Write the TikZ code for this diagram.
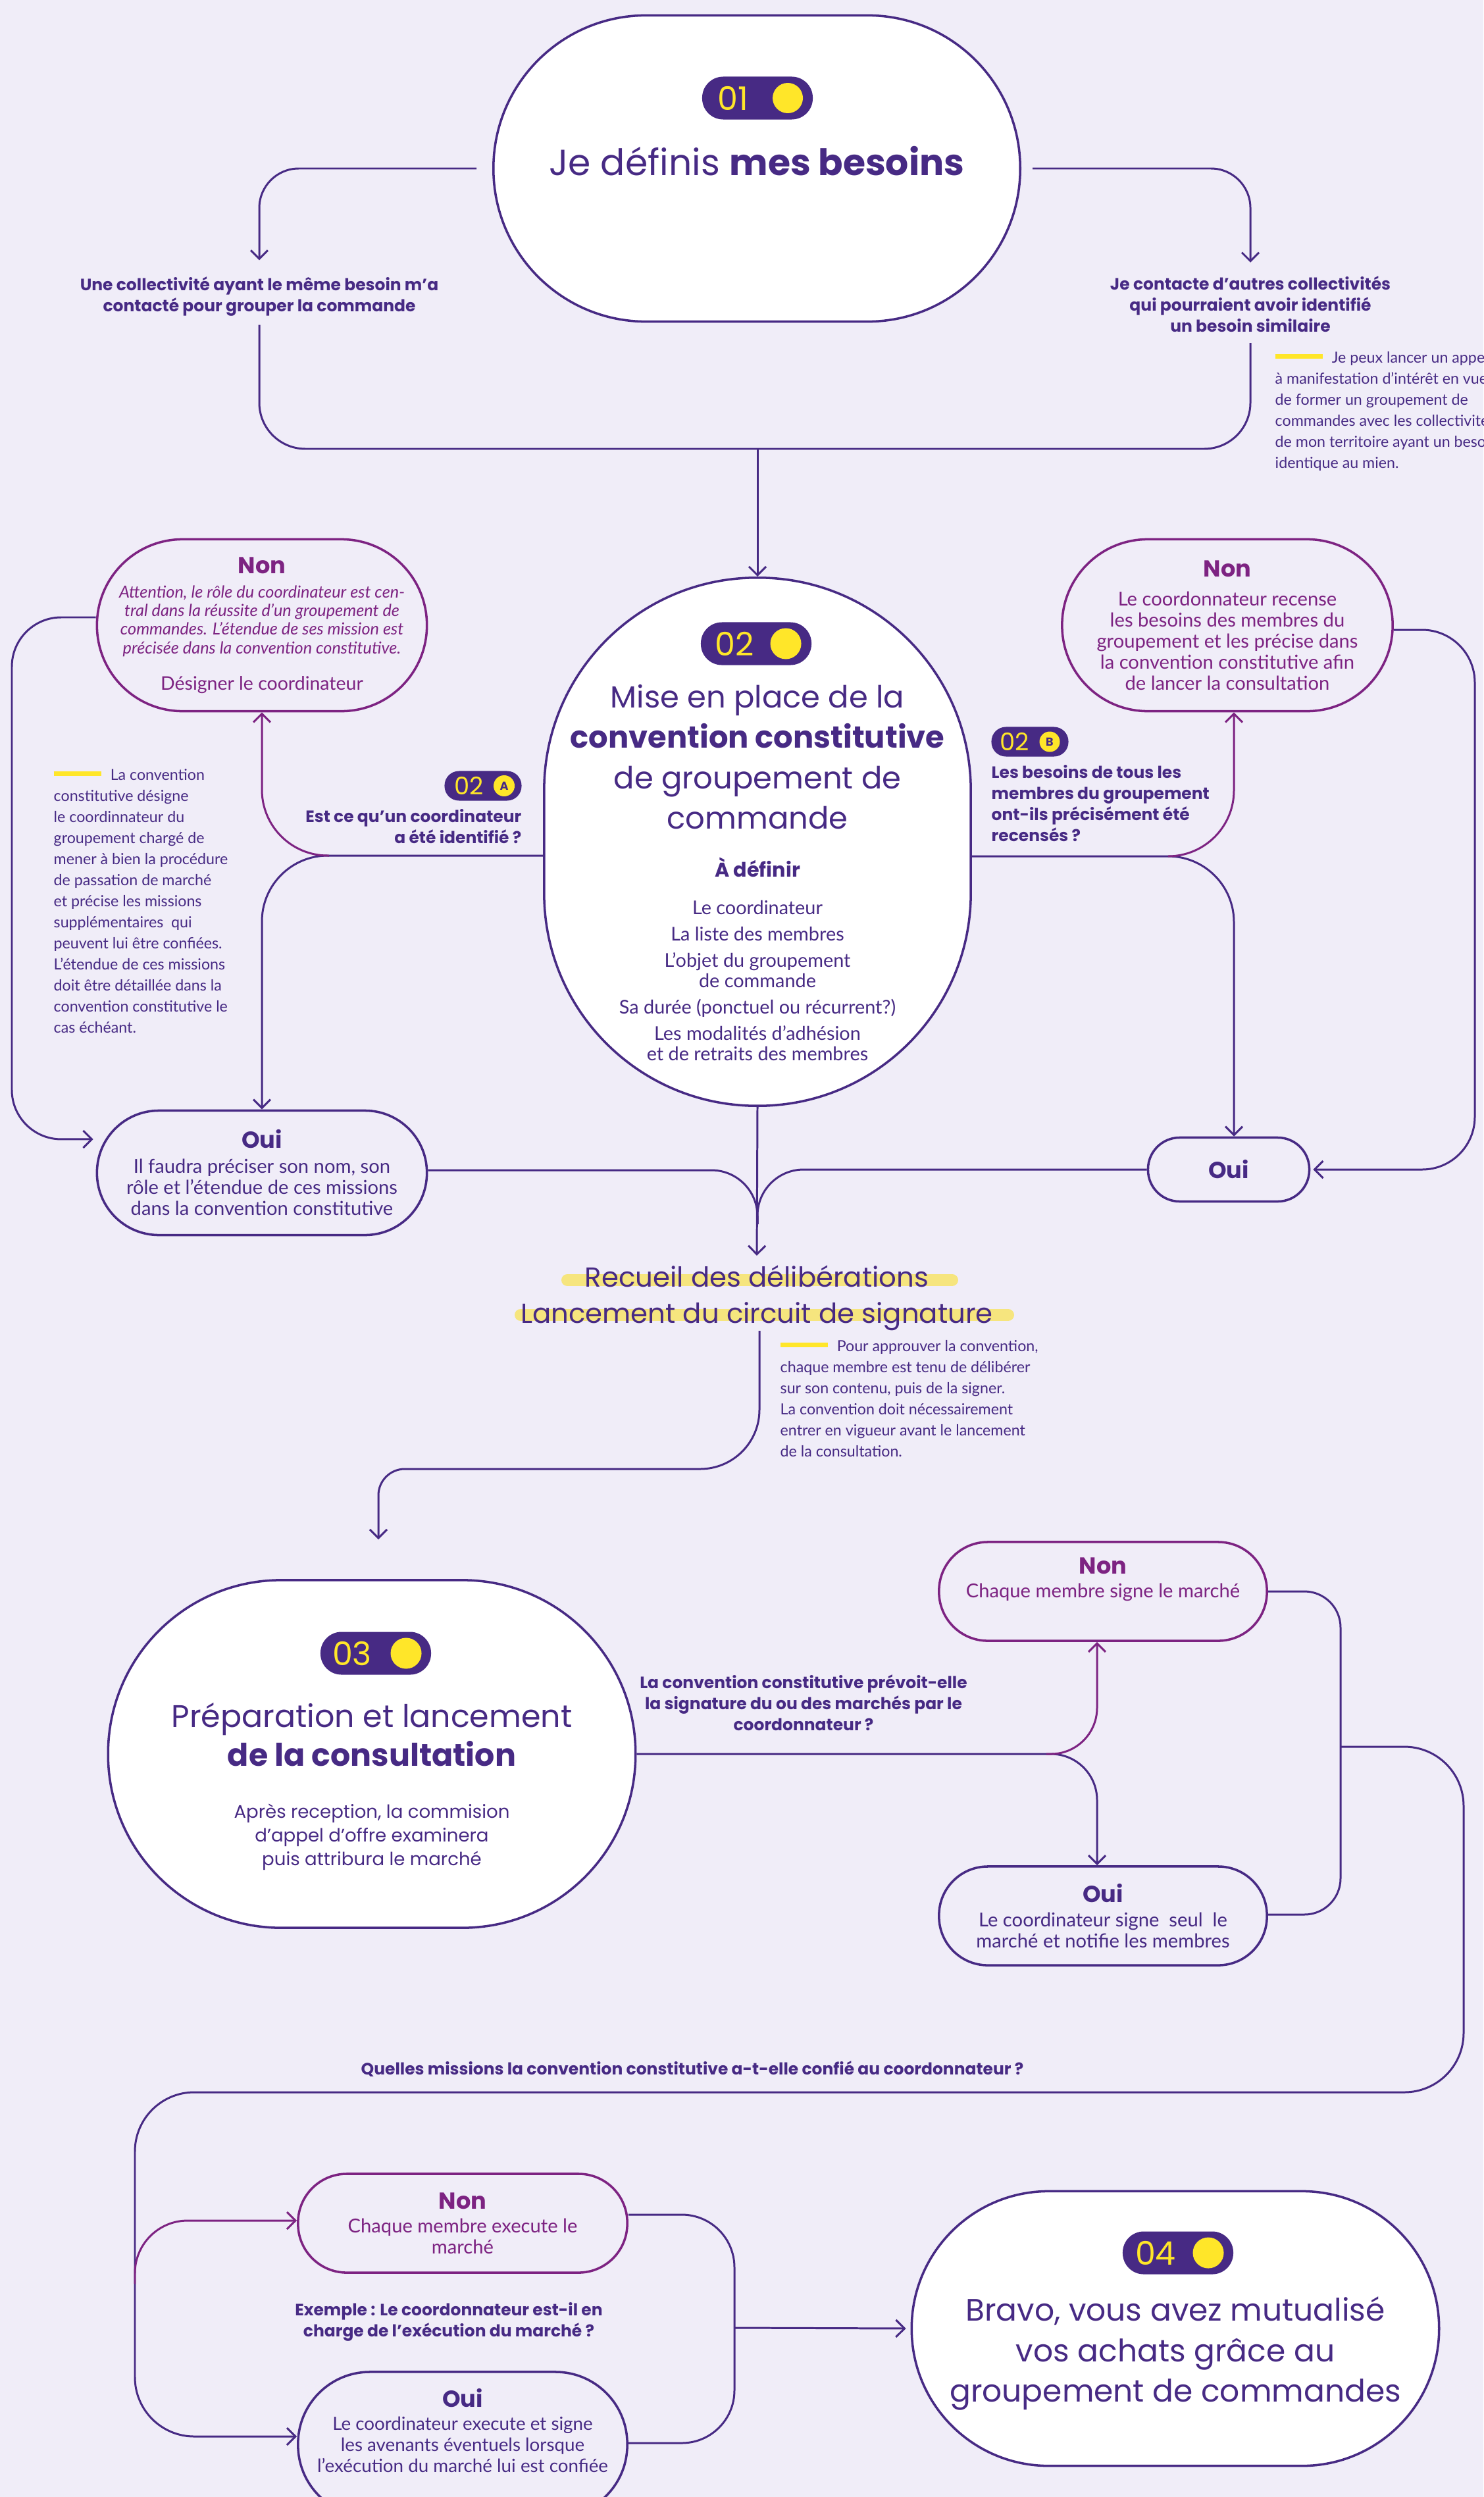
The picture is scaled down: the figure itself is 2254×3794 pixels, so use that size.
\documentclass[tikz,border=0pt]{standalone}
\usepackage{fontspec}
\setmainfont{Poppins}
\newfontfamily\bodyfont{Lato}
\usetikzlibrary{arrows.meta}

\definecolor{bgc}{HTML}{F0EDF8}
\definecolor{dk}{HTML}{472A84}
\definecolor{mg}{HTML}{7D2382}
\definecolor{ylw}{HTML}{FFE629}
\definecolor{hlc}{HTML}{F6E57E}

\newcommand{\yesno}[1]{{\rmfamily\upshape\bfseries\fontsize{10}{12}\selectfont #1}}
\newcommand{\notedash}{\textcolor{ylw}{\rule[0.55ex]{0.72cm}{0.07cm}}\hspace{0.14cm}}

\begin{document}
\begin{tikzpicture}[x=0.01cm, y=-0.01cm,
  >={Straight Barb[length=1.3mm, width=2.6mm]},
  conn/.style={draw=dk, line width=0.85pt},
  connmg/.style={draw=mg, line width=0.85pt},
  bigbox/.style={draw=dk, fill=white, line width=1pt, inner sep=0pt},
  smallbox/.style={draw=dk, line width=1pt, inner sep=0pt, align=center, text=dk,
    font=\bodyfont\fontsize{8.3}{9.1}\selectfont},
  nonbox/.style={smallbox, draw=mg, text=mg},
  pill/.style={fill=dk, inner sep=0pt, minimum width=1.68cm, minimum height=0.65cm, rounded corners=0.32cm},
  minipill/.style={fill=dk, inner sep=0pt, minimum width=1.17cm, minimum height=0.45cm, rounded corners=0.22cm},
  pillnum/.style={text=ylw, inner sep=0pt, font=\fontsize{14}{14}\selectfont},
  ydot/.style={circle, fill=ylw, inner sep=0pt, minimum size=#1},
  txt/.style={inner sep=0pt, align=center, text=dk},
  title/.style={txt, font=\fontsize{13.4}{17.4}\selectfont},
  question/.style={txt, font=\bfseries\fontsize{7.1}{9.1}\selectfont},
  note/.style={inner sep=0pt, align=left, text=dk, font=\bodyfont\fontsize{6.6}{9.1}\selectfont},
]
  % page and background
  \path[use as bounding box, fill=bgc] (0,0) rectangle (2254,3794);

  % ---- step 01 ----
  \node[bigbox, minimum width=8cm, minimum height=4.65cm, rounded corners=2.32cm] (n01) at (1150,256) {};
  \node[pill] (b01) at (1151,149) {};
  \node[pillnum] (b01n) at ([xshift=-0.37cm]b01.center) {01};
  \node[ydot=0.46cm] (b01d) at ([xshift=0.46cm]b01.center) {};
  \node[txt, font=\fontsize{15.7}{18}\selectfont] (t01) at (1150,245) {Je définis \textbf{mes besoins}};

  % the two ways of starting
  \node[question] (t1l) at (394,451) {Une collectivité ayant le même besoin m’a\\contacté pour grouper la commande};
  \node[question] (t1r) at (1900,462) {Je contacte d’autres collectivités\\qui pourraient avoir identifié\\un besoin similaire};
  \node[note, anchor=north west] (nt1) at (1937,534) {\notedash Je peux lancer un appel\\à manifestation d’intérêt en vue\\de former un groupement de\\commandes avec les collectivités\\de mon territoire ayant un besoin\\identique au mien.};

  % ---- step 02 ----
  \node[bigbox, minimum width=6.48cm, minimum height=8.02cm, rounded corners=3.23cm] (n02) at (1151,1279) {};
  \node[pill] (b02) at (1149,978) {};
  \node[pillnum] (b02n) at ([xshift=-0.33cm]b02.center) {02};
  \node[ydot=0.47cm] (b02d) at ([xshift=0.45cm]b02.center) {};
  \node[title, font=\fontsize{13.2}{17.4}\selectfont] (t02) at (1151,1150) {Mise en place de la\\\textbf{convention constitutive}\\de groupement de\\commande};
  \node[txt, font=\bfseries\fontsize{8.6}{10}\selectfont] (d02) at (1151,1318) {À définir};
  \node[txt, font=\bodyfont\fontsize{8.2}{8.8}\selectfont] (lst02) at (1151,1490) {Le coordinateur\\[2.6pt]La liste des membres\\[2.6pt]L’objet du groupement\\de commande\\[2.6pt]Sa durée (ponctuel ou récurrent?)\\[2.6pt]Les modalités d’adhésion\\et de retraits des membres};

  % question 02 A
  \node[minipill] (b02a) at (734,1194) {};
  \node[pillnum, font=\fontsize{10.5}{10.5}\selectfont] (b02an) at ([xshift=-0.21cm]b02a.center) {02};
  \node[ydot=0.32cm, text=dk, font=\bfseries\fontsize{5}{5}\selectfont] (b02ad) at ([xshift=0.32cm]b02a.center) {A};
  \node[question, align=right, anchor=east] (q02a) at (793,1256) {Est ce qu’un coordinateur\\a été identifié ?};
  \node[nonbox, minimum width=5.01cm, minimum height=2.61cm, rounded corners=1.3cm,
    font=\bodyfont\itshape\fontsize{7.2}{8.05}\selectfont] (non1) at (398,950)
    {\yesno{Non}\\[2.4pt]Attention, le rôle du coordinateur est cen-\\tral dans la réussite d’un groupement de\\commandes. L’étendue de ses mission est\\précisée dans la convention constitutive.\\[7.6pt]{\upshape\fontsize{8.1}{9}\selectfont Désigner le coordinateur}};
  \node[smallbox, minimum width=5.01cm, minimum height=1.89cm, rounded corners=0.94cm] (oui1) at (398,1782)
    {\yesno{Oui}\\[1.7pt]Il faudra préciser son nom, son\\rôle et l’étendue de ces missions\\dans la convention constitutive};
  \node[note, anchor=north west] (nt2) at (81,1168) {\notedash La convention\\constitutive désigne\\le coordinnateur du\\groupement chargé de\\mener à bien la procédure\\de passation de marché\\et précise les missions\\supplémentaires\ \ qui\\peuvent lui être confiées.\\L’étendue de ces missions\\doit être détaillée dans la\\convention constitutive le\\cas échéant.};

  % question 02 B
  \node[minipill] (b02b) at (1565,1127) {};
  \node[pillnum, font=\fontsize{10.5}{10.5}\selectfont] (b02bn) at ([xshift=-0.23cm]b02b.center) {02};
  \node[ydot=0.31cm, text=dk, font=\bfseries\fontsize{5}{5}\selectfont] (b02bd) at ([xshift=0.3cm]b02b.center) {B};
  \node[question, align=left, anchor=west] (q02b) at (1506,1221) {Les besoins de tous les\\membres du groupement\\ont-ils précisément été\\recensés ?};
  \node[nonbox, minimum width=5.02cm, minimum height=2.61cm, rounded corners=1.3cm] (non2) at (1865,950)
    {\yesno{Non}\\[3.5pt]Le coordonnateur recense\\les besoins des membres du\\groupement et les précise dans\\la convention constitutive afin\\de lancer la consultation};
  \node[smallbox, minimum width=2.45cm, minimum height=0.97cm, rounded corners=0.48cm] (oui2) at (1867,1777) {\yesno{Oui}};

  % deliberations
  \draw[hlc, line width=0.18cm, line cap=round] (862,1945) -- (1447,1945);
  \draw[hlc, line width=0.18cm, line cap=round] (791,1998) -- (1532,1998);
  \node[txt, font=\fontsize{11.9}{15.6}\selectfont] (rec) at (1150,1972) {Recueil des délibérations\\Lancement du circuit de signature};
  \node[note, anchor=north west] (nt3) at (1185,2036) {\notedash Pour approuver la convention,\\chaque membre est tenu de délibérer\\sur son contenu, puis de la signer.\\La convention doit nécessairement\\entrer en vigueur avant le lancement\\de la consultation.};

  % ---- step 03 ----
  \node[bigbox, minimum width=8.01cm, minimum height=5.28cm, rounded corners=2.63cm] (n03) at (565,2665) {};
  \node[pill] (b03) at (571,2512) {};
  \node[pillnum] (b03n) at ([xshift=-0.36cm]b03.center) {03};
  \node[ydot=0.47cm] (b03d) at ([xshift=0.46cm]b03.center) {};
  \node[title, font=\fontsize{13.5}{16.8}\selectfont] (t03) at (565,2636) {Préparation et lancement\\\textbf{de la consultation}};
  \node[txt, font=\fontsize{7.85}{10.2}\selectfont] (sub03) at (565,2791) {Après reception, la commision\\d’appel d’offre examinera\\puis attribura le marché};
  \node[question] (q03) at (1221,2587) {La convention constitutive prévoit-elle\\la signature du ou des marchés par le\\coordonnateur ?};
  \node[nonbox, minimum width=4.98cm, minimum height=1.5cm, rounded corners=0.74cm] (non3) at (1676,2418) {};
  \node[txt, text=mg, font=\bodyfont\fontsize{8.3}{9.1}\selectfont] (non3t) at (1676,2400) {\yesno{Non}\\[1.1pt]Chaque membre signe le marché};
  \node[smallbox, minimum width=4.98cm, minimum height=1.5cm, rounded corners=0.74cm] (oui3) at (1676,2911)
    {\yesno{Oui}\\[1.4pt]Le coordinateur signe\ \ seul\ \ le\\marché et notifie les membres};

  % ---- step 04 ----
  \node[question] (q04) at (1052,3144) {Quelles missions la convention constitutive a-t-elle confié au coordonnateur ?};
  \node[nonbox, minimum width=5cm, minimum height=1.5cm, rounded corners=0.74cm] (non4) at (703,3378)
    {\yesno{Non}\\[1.1pt]Chaque membre execute le\\marché};
  \node[smallbox, minimum width=5cm, minimum height=2.2cm, rounded corners=1.09cm] (oui4) at (703,3714) {};
  \node[txt, font=\bodyfont\fontsize{7.9}{9.1}\selectfont] (oui4t) at (703,3693)
    {\yesno{Oui}\\[1.1pt]Le coordinateur execute et signe\\les avenants éventuels lorsque\\l’exécution du marché lui est confiée};
  \node[question] (q05) at (682,3528) {Exemple : Le coordonnateur est-il en\\charge de l’exécution du marché ?};
  \node[bigbox, minimum width=8.01cm, minimum height=4.17cm, rounded corners=2.08cm] (n04) at (1786,3538) {};
  \node[pill] (b04) at (1790,3423) {};
  \node[pillnum] (b04n) at ([xshift=-0.34cm]b04.center) {04};
  \node[ydot=0.47cm] (b04d) at ([xshift=0.46cm]b04.center) {};
  \node[title] (t04) at (1786,3576) {Bravo, vous avez mutualisé\\vos achats grâce au\\groupement de commandes};

  % ---- connectors ----
  % 01 splits in two, then both ways meet again
  \draw[conn, ->, rounded corners=0.6cm, shorten <=0.24cm, shorten >=0.25cm] (n01.west) -| (t1l.north);
  \draw[conn, ->, rounded corners=0.6cm, shorten <=0.17cm, shorten >=0.2cm] (n01.east) -| (t1r.north);
  \coordinate (j01) at (1151,682);
  \draw[conn, rounded corners=0.7cm] ([yshift=-0.12cm]t1l.south) |- (j01) -| ([yshift=-0.16cm]t1r.south);
  \draw[conn, ->] (j01) -- (n02.north);

  % question A
  \coordinate (sp02a) at (500,1300);
  \draw[conn, ->, rounded corners=1cm] ([yshift=-0.21cm]n02.west) -| (oui1.north);
  \draw[connmg, ->, rounded corners=1cm] (sp02a) -| (non1.south);
  \coordinate (lp1) at (18,1300);
  \draw[conn, ->, rounded corners=0.75cm] ([yshift=0.12cm]non1.west) -| (lp1) |- ([xshift=-0.04cm, yshift=0.51cm]oui1.west);

  % question B
  \coordinate (sp02b) at (1775,1301);
  \draw[conn, ->, rounded corners=1cm] ([yshift=-0.22cm]n02.east) -| ([xshift=0.08cm]oui2.north);
  \draw[connmg, ->, rounded corners=1cm] (sp02b) -| ([xshift=0.1cm]non2.south);
  \coordinate (lp2) at (2241,1400);
  \draw[conn, ->, rounded corners=0.8cm] ([yshift=-0.07cm]non2.east) -| (lp2) |- ([xshift=0.04cm]oui2.east);

  % everything goes to the deliberations
  \coordinate (m02) at (1151,1860);
  \draw[conn, rounded corners=0.7cm] ([yshift=0.04cm]oui1.east) -| (m02);
  \draw[conn, rounded corners=0.7cm] (oui2.west) -| (m02);
  \draw[conn, ->, shorten >=0.14cm] (n02.south) -- (rec.north);

  % deliberations to 03
  \coordinate (h03) at (900,2232);
  \draw[conn, ->, shorten >=0.6cm] ([xshift=0.04cm]rec.south) [rounded corners=0.9cm] |- (h03) [rounded corners=0.4cm] -| ([xshift=0.1cm]n03.north);

  % signature question
  \coordinate (sp03) at (1590,2665);
  \draw[conn, ->, rounded corners=0.7cm] (n03.east) -| ([xshift=-0.09cm]oui3.north);
  \draw[connmg, ->, rounded corners=0.7cm] (sp03) -| ([xshift=-0.09cm]non3.south);
  \coordinate (lp3) at (2037,2654);
  \draw[conn, rounded corners=0.55cm] (non3.east) -| (lp3) |- ([yshift=0.02cm]oui3.east);

  % missions question
  \coordinate (c1) at (2224,3179);
  \coordinate (c2) at (205,3179);
  \draw[conn, ->, rounded corners=0.9cm] (lp3) -| (c1) -- (c2) |- ([yshift=0.12cm]oui4.west);
  \coordinate (lp4) at (205,3470);
  \draw[connmg, ->, rounded corners=0.8cm] (lp4) |- ([yshift=0.04cm]non4.west);

  % to 04
  \coordinate (m04) at (1116,3537);
  \draw[conn, rounded corners=0.8cm] ([yshift=0.13cm]non4.east) -| (m04) |- ([yshift=0.02cm]oui4.east);
  \draw[conn, ->, shorten >=0.07cm] (m04) -- (n04.west);
\end{tikzpicture}
\end{document}
